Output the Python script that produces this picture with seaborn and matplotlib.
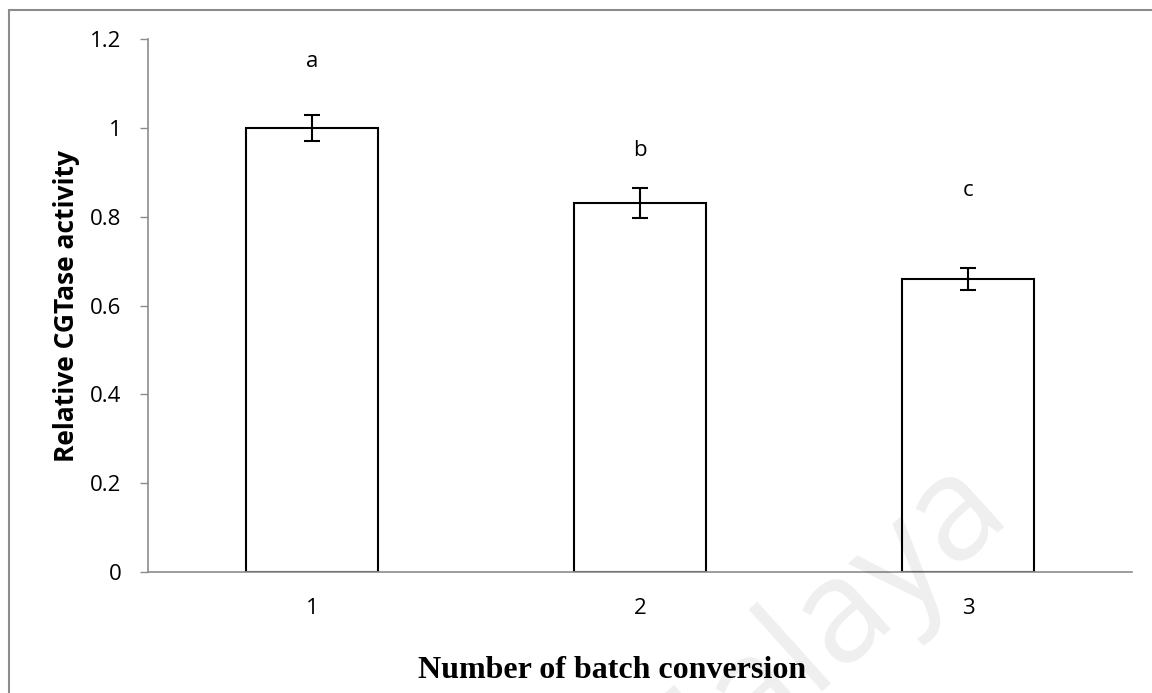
import matplotlib
matplotlib.use("Agg")
import matplotlib.pyplot as plt
import seaborn as sns
import pandas as pd
from matplotlib.patches import Rectangle

# Relative CGTase activity over repeated batch conversions
batches = ["1", "2", "3"]
activity = [1.00, 0.83, 0.66]
sd = [0.030, 0.034, 0.025]
letters = ["a", "b", "c"]
letter_y = [1.15, 0.95, 0.86]
yticks = [0, 0.2, 0.4, 0.6, 0.8, 1, 1.2]
ytick_labels = ["0", "0.2", "0.4", "0.6", "0.8", "1", "1.2"]

df = pd.DataFrame({"batch": batches, "activity": activity})

sns.set_theme(style="white")
plt.rcParams["font.family"] = ["Open Sans", "DejaVu Sans"]

W, H = 1152, 693
fig = plt.figure(figsize=(W / 100, H / 100), dpi=100)
ax = fig.add_axes([148 / W, 1 - 572 / H, (1132 - 148) / W, (572 - 39) / H])

sns.barplot(data=df, x="batch", y="activity", ax=ax, color="white",
            edgecolor="black", linewidth=1.5, width=0.4, errorbar=None)
ax.errorbar(range(len(batches)), activity, yerr=sd, fmt="none",
            ecolor="black", elinewidth=1.5, capsize=6, capthick=1.5)

for i, (lab, yy) in enumerate(zip(letters, letter_y)):
    ax.text(i, yy, lab, ha="center", va="center", fontsize=16, color="black")

ax.set_xlim(-0.5, 2.5)
ax.set_ylim(0, 1.2)
ax.set_yticks(yticks)
ax.set_yticklabels(ytick_labels)
ax.tick_params(axis="y", which="major", left=True, length=6, width=1,
               color="#8c8c8c", labelsize=16, pad=13, labelcolor="black")
ax.tick_params(axis="x", bottom=False, labelsize=16, pad=13, labelcolor="black")

for side in ["top", "right"]:
    ax.spines[side].set_visible(False)
for side in ["left", "bottom"]:
    ax.spines[side].set_color("#8c8c8c")
    ax.spines[side].set_linewidth(1.2)

ax.set_ylabel("Relative CGTase activity", fontsize=19, fontweight="bold",
              color="black")
ax.yaxis.set_label_coords((80 - 148) / (1132 - 148), 0.5)
ax.set_xlabel("Number of batch conversion", fontsize=23, fontweight="bold",
              family=["Liberation Serif", "DejaVu Serif"], color="black",
              va="center")
ax.xaxis.set_label_coords((612 - 148) / (1132 - 148), -(670 - 572) / (572 - 39))

# outer chart frame
fig.patches.append(Rectangle((9 / W, -0.05), 1.2, 1 - 10 / H + 0.05,
                             transform=fig.transFigure, fill=False,
                             edgecolor="#8c8c8c", linewidth=1.5, zorder=0))

# faint watermark laid over the chart
fig.text(808 / W, 1 - 642 / H, "Malaya", fontsize=104, color="#000000",
         alpha=0.065, rotation=42, ha="center", va="center",
         rotation_mode="anchor", zorder=10)

fig.savefig("out.png", dpi=100)
